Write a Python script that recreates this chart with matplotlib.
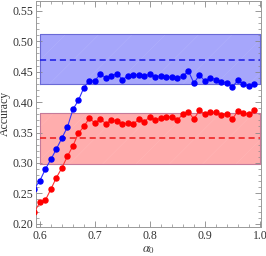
import numpy as np
import matplotlib
matplotlib.use('Agg')
import matplotlib.pyplot as plt
from matplotlib.ticker import MultipleLocator

plt.rcParams['font.family'] = ['Liberation Serif', 'DejaVu Serif']
plt.rcParams['mathtext.fontset'] = 'stix'
plt.rcParams['hatch.linewidth'] = 0.4

alpha0 = np.round(np.arange(0.59, 0.995, 0.01), 2)

acc_blue = [0.258, 0.271, 0.290, 0.306, 0.323, 0.341, 0.359, 0.388, 0.403, 0.424,
            0.435, 0.435, 0.447, 0.439, 0.443, 0.447, 0.437, 0.443, 0.445, 0.445,
            0.443, 0.446, 0.442, 0.443, 0.442, 0.441, 0.439, 0.443, 0.451, 0.431,
            0.445, 0.434, 0.440, 0.437, 0.433, 0.432, 0.425, 0.436, 0.429, 0.426,
            0.429]
acc_red = [0.220, 0.235, 0.239, 0.257, 0.276, 0.292, 0.311, 0.328, 0.349, 0.360,
           0.374, 0.365, 0.373, 0.364, 0.371, 0.369, 0.364, 0.365, 0.364, 0.372,
           0.368, 0.376, 0.370, 0.374, 0.376, 0.376, 0.371, 0.380, 0.384, 0.372,
           0.387, 0.380, 0.384, 0.383, 0.379, 0.381, 0.372, 0.386, 0.382, 0.380,
           0.387]

# reference bands: (low, mean, high)
band_blue = (0.429, 0.470, 0.512)
band_red = (0.299, 0.341, 0.382)
band_x = [0.6, 1.0]

fig = plt.figure(figsize=(2.66, 2.56), dpi=100)
ax = fig.add_axes([0.135, 0.113, 0.845, 0.885])


def draw_band(band, fill, hatch_col, edge, line):
    lo, mid, hi = band
    ax.fill_between(band_x, lo, hi, facecolor=fill, edgecolor=hatch_col,
                    hatch='/', linewidth=0, zorder=1)
    ax.plot([band_x[0], band_x[1], band_x[1], band_x[0], band_x[0]],
            [lo, lo, hi, hi, lo], color=edge, lw=0.8, zorder=2)
    ax.plot(band_x, [mid, mid], color=line, lw=1.1, ls=(0, (4, 2.5)), zorder=2)


draw_band(band_blue, '#a6a6fb', '#b0b0fb', '#6a6ad6', '#1a1ae6')
draw_band(band_red, '#ffadad', '#ffb6b6', '#c57a9a', '#ee1a1a')

ax.plot(alpha0, acc_blue, color='#3030ff', lw=0.8, marker='o', ms=3.6,
        mfc='#0000ff', mec='#0000ff', zorder=3, clip_on=True)
ax.plot(alpha0, acc_red, color='#ff3030', lw=0.8, marker='o', ms=3.6,
        mfc='#ff0000', mec='#ff0000', zorder=3, clip_on=True)

ax.set_xlim(0.5927, 1.0013)
ax.set_ylim(0.1946, 0.567)
ax.xaxis.set_minor_locator(MultipleLocator(0.02))
ax.yaxis.set_minor_locator(MultipleLocator(0.01))
yt = np.round(np.arange(0.20, 0.551, 0.05), 2)
xt = np.round(np.arange(0.6, 1.01, 0.1), 1)
ax.set_yticks(yt)
ax.set_yticklabels([f'{v:.2f}' for v in yt])
ax.set_xticks(xt)
ax.set_xticklabels([f'{v:.1f}' for v in xt])

ax.tick_params(which='both', direction='in', top=True, right=True,
               color='#888888', labelsize=8.5, labelcolor='#333333')
ax.tick_params(which='major', length=4, width=0.6, pad=2)
ax.tick_params(which='minor', length=2, width=0.5)
for s in ax.spines.values():
    s.set_color('#999999')
    s.set_linewidth(0.7)

ax.set_xlabel(r'$\alpha_0$', fontsize=9, color='#333333')
ax.xaxis.set_label_coords(0.5, -0.074)
ax.set_ylabel('Accuracy', fontsize=8.5, color='#333333')
ax.yaxis.set_label_coords(-0.112, 0.5)

fig.savefig('out.png', dpi=100)
